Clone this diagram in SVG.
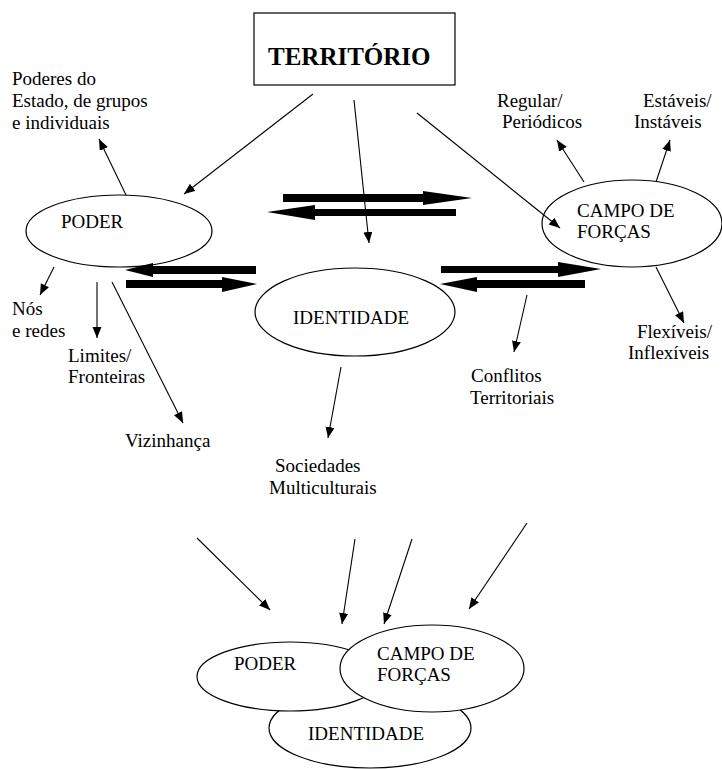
<svg xmlns="http://www.w3.org/2000/svg" width="722" height="769" viewBox="0 0 722 769">
<style>
text{font-family:"Liberation Serif","Times New Roman","DejaVu Serif",serif;font-size:19px;fill:#000}
.title{font-weight:bold;font-size:25px}
.node{fill:#fff;stroke:#000;stroke-width:1.2}
.ln{stroke:#000;stroke-width:1.1;fill:none;marker-end:url(#ah)}
.big{fill:#000;stroke:none}
</style>
<defs>
<marker id="ah" markerUnits="userSpaceOnUse" markerWidth="12" markerHeight="10" refX="11" refY="4.5" orient="auto">
<path d="M0,0 L11,4.5 L0,9 z" fill="#000"/>
</marker>
</defs>
<rect width="722" height="769" fill="#fff"/>

<g id="territorio">
<rect x="254" y="13" width="201" height="72" fill="#fff" stroke="#000" stroke-width="1.2"/>
<text class="title" x="268" y="65">TERRITÓRIO</text>
</g>

<g id="poder">
<ellipse class="node" cx="119" cy="231" rx="93" ry="36"/>
<text x="61" y="228">PODER</text>
</g>

<g id="campo">
<ellipse class="node" cx="632" cy="223.5" rx="90" ry="43.5"/>
<text x="577" y="217">CAMPO DE</text>
<text x="577" y="238">FORÇAS</text>
</g>

<g id="identidade">
<ellipse class="node" cx="355" cy="312" rx="100" ry="44"/>
<text x="293" y="324">IDENTIDADE</text>
</g>

<g id="labels">
<text x="12" y="85">Poderes do</text>
<text x="12" y="107">Estado, de grupos</text>
<text x="12" y="129">e individuais</text>
<text x="497" y="107">Regular/</text>
<text x="502" y="128">Periódicos</text>
<text x="643" y="107">Estáveis/</text>
<text x="634" y="128">Instáveis</text>
<text x="637" y="338">Flexíveis/</text>
<text x="628" y="359">Inflexíveis</text>
<text x="471" y="382">Conflitos</text>
<text x="470" y="404">Territoriais</text>
<text x="12" y="315">Nós</text>
<text x="12" y="337">e redes</text>
<text x="68" y="362">Limites/</text>
<text x="68" y="383">Fronteiras</text>
<text x="125" y="447">Vizinhança</text>
<text x="275" y="472">Sociedades</text>
<text x="269" y="494">Multiculturais</text>
</g>

<g id="bottom-identidade">
<ellipse class="node" cx="370" cy="728" rx="101" ry="40"/>
<text x="308" y="740">IDENTIDADE</text>
</g>
<g id="bottom-poder">
<ellipse class="node" cx="290" cy="676.5" rx="93" ry="34.5"/>
<text x="234" y="670">PODER</text>
</g>
<g id="bottom-campo">
<ellipse class="node" cx="432" cy="668.5" rx="92" ry="43.5"/>
<text x="377" y="660">CAMPO DE</text>
<text x="377" y="681">FORÇAS</text>
</g>

<g id="connectors">
<line class="ln" x1="313" y1="94" x2="184" y2="194"/>
<line class="ln" x1="354" y1="100" x2="369" y2="243"/>
<line class="ln" x1="417" y1="113" x2="560" y2="228"/>
<line class="ln" x1="126" y1="195" x2="99" y2="139"/>
<line class="ln" x1="54" y1="267" x2="40" y2="295"/>
<line class="ln" x1="97" y1="282" x2="97" y2="338"/>
<line class="ln" x1="112" y1="282" x2="183" y2="423"/>
<line class="ln" x1="341" y1="367" x2="328" y2="438"/>
<line class="ln" x1="527" y1="295" x2="514" y2="352"/>
<line class="ln" x1="584" y1="182" x2="557" y2="140"/>
<line class="ln" x1="656" y1="182" x2="670" y2="140"/>
<line class="ln" x1="656" y1="267" x2="684" y2="323"/>
<line class="ln" x1="197" y1="538" x2="270" y2="610"/>
<line class="ln" x1="355" y1="539" x2="342" y2="624"/>
<line class="ln" x1="412" y1="539" x2="384" y2="624"/>
<line class="ln" x1="527" y1="523" x2="469" y2="609"/>
<polygon class="big" points="283,194 423,194 423,191 472,198 423,205 423,202 283,202"/>
<polygon class="big" points="456,209 315,209 315,205 267,212 315,220 315,216 456,216"/>
<polygon class="big" points="256,266 153,266 153,263 125,270 153,277 153,274 256,274"/>
<polygon class="big" points="126,280 222,280 222,277 257,284 222,292 222,288 126,288"/>
<polygon class="big" points="441,266 558,266 558,262 601,269 558,277 558,273 441,273"/>
<polygon class="big" points="585,280 477,280 477,277 440,284 477,292 477,288 585,288"/>
</g>
</svg>
